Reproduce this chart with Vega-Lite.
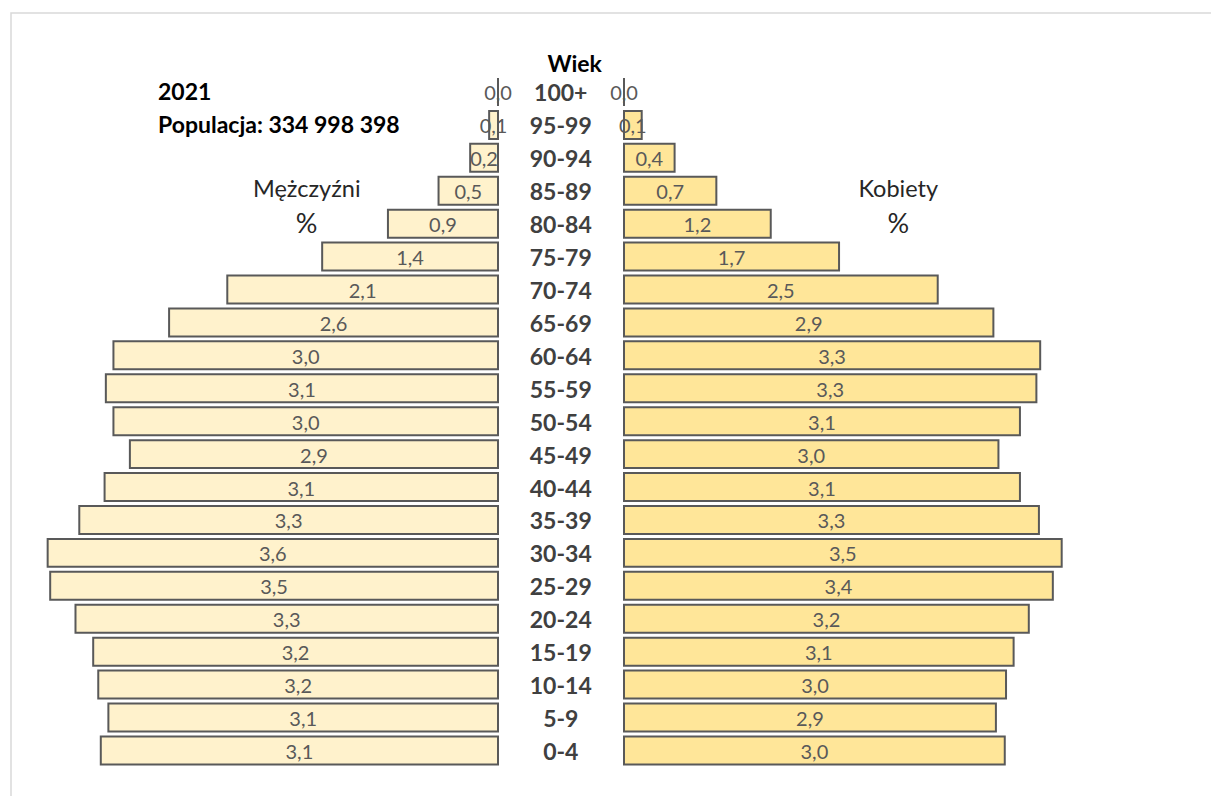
{
  "$schema": "https://vega.github.io/schema/vega-lite/v6.json",
  "autosize": {"type": "fit", "contains": "padding"},
  "width": 1211,
  "height": 796,
  "padding": {"left": 11, "top": 13, "right": -4, "bottom": -4},
  "background": "white",
  "config": {
    "view": {"stroke": "#d9d9d9", "strokeWidth": 1.5},
    "locale": {"number": {"decimal": ",", "thousands": " ", "grouping": [3], "currency": ["", ""]}}
  },
  "data": {
    "values": [
      {"age": "100+", "m": 0.0, "f": 0.0},
      {"age": "95-99", "m": 0.07, "f": 0.14},
      {"age": "90-94", "m": 0.22, "f": 0.40},
      {"age": "85-89", "m": 0.47, "f": 0.73},
      {"age": "80-84", "m": 0.87, "f": 1.16},
      {"age": "75-79", "m": 1.39, "f": 1.70},
      {"age": "70-74", "m": 2.14, "f": 2.48},
      {"age": "65-69", "m": 2.60, "f": 2.92},
      {"age": "60-64", "m": 3.04, "f": 3.29},
      {"age": "55-59", "m": 3.10, "f": 3.26},
      {"age": "50-54", "m": 3.04, "f": 3.13},
      {"age": "45-49", "m": 2.91, "f": 2.96},
      {"age": "40-44", "m": 3.11, "f": 3.13},
      {"age": "35-39", "m": 3.31, "f": 3.28},
      {"age": "30-34", "m": 3.56, "f": 3.46},
      {"age": "25-29", "m": 3.54, "f": 3.39},
      {"age": "20-24", "m": 3.34, "f": 3.20},
      {"age": "15-19", "m": 3.20, "f": 3.08},
      {"age": "10-14", "m": 3.16, "f": 3.02},
      {"age": "5-9", "m": 3.08, "f": 2.94},
      {"age": "0-4", "m": 3.14, "f": 3.01}
    ]
  },
  "resolve": {"scale": {"x": "independent"}},
  "layer": [
    {
      "mark": {"type": "bar", "fill": "#FFF2CC", "stroke": "#595959", "strokeWidth": 2},
      "encoding": {
        "x": {"field": "m", "type": "quantitative", "axis": null, "scale": {"domain": [0, 4], "range": [487, -19]}},
        "y": {"field": "age", "type": "nominal", "axis": null, "scale": {"domain": ["100+","95-99","90-94","85-89","80-84","75-79","70-74","65-69","60-64","55-59","50-54","45-49","40-44","35-39","30-34","25-29","20-24","15-19","10-14","5-9","0-4"], "range": [65, 751.4], "paddingInner": 0.15, "paddingOuter": 0}}
      }
    },
    {
      "mark": {"type": "bar", "fill": "#FFE699", "stroke": "#595959", "strokeWidth": 2},
      "encoding": {
        "x": {"field": "f", "type": "quantitative", "axis": null, "scale": {"domain": [0, 4], "range": [613, 1119]}},
        "y": {"field": "age", "type": "nominal", "axis": null}
      }
    },
    {
      "mark": {"type": "text", "font": "Lato", "fontSize": 20, "color": "#595959", "baseline": "middle", "align": "center", "dy": 2.5},
      "encoding": {
        "x": {"field": "m", "type": "quantitative", "axis": null, "scale": {"domain": [0, 8], "range": [487, -19]}},
        "y": {"field": "age", "type": "nominal", "axis": null},
        "text": {"field": "m", "type": "quantitative", "format": ".1f"}
      }
    },
    {
      "mark": {"type": "text", "font": "Lato", "fontSize": 20, "color": "#595959", "baseline": "middle", "align": "center", "dy": 2.5},
      "encoding": {
        "x": {"field": "f", "type": "quantitative", "axis": null, "scale": {"domain": [0, 8], "range": [613, 1119]}},
        "y": {"field": "age", "type": "nominal", "axis": null},
        "text": {"field": "f", "type": "quantitative", "format": ".1f"}
      }
    },
    {
      "mark": {"type": "text", "font": "Lato", "fontSize": 23, "fontWeight": "bold", "color": "#404040", "baseline": "middle", "align": "center", "dy": 2.5},
      "encoding": {
        "x": {"datum": -0.5, "type": "quantitative", "axis": null, "scale": {"domain": [-4, 4], "range": [107, 1119]}},
        "y": {"field": "age", "type": "nominal", "axis": null},
        "text": {"field": "age", "type": "nominal"}
      }
    },
    {
      "data": {"values": [{"t": "Wiek", "v": -0.39, "age": "100+"}]},
      "mark": {"type": "text", "font": "Lato", "fontSize": 23, "fontWeight": "bold", "color": "#000000", "baseline": "middle", "align": "center", "dy": -27},
      "encoding": {
        "x": {"field": "v", "type": "quantitative", "axis": null, "scale": {"domain": [-4, 4], "range": [107, 1119]}},
        "y": {"field": "age", "type": "nominal", "axis": null},
        "text": {"field": "t", "type": "nominal"}
      }
    },
    {
      "data": {"values": [{"t": "2021", "v": -3.684, "age": "100+"}, {"t": "Populacja: 334 998 398", "v": -3.684, "age": "95-99"}]},
      "mark": {"type": "text", "font": "Lato", "fontSize": 23, "fontWeight": "bold", "color": "#000000", "baseline": "middle", "align": "left", "dy": 1},
      "encoding": {
        "x": {"field": "v", "type": "quantitative", "axis": null, "scale": {"domain": [-4, 4], "range": [107, 1119]}},
        "y": {"field": "age", "type": "nominal", "axis": null},
        "text": {"field": "t", "type": "nominal"}
      }
    },
    {
      "data": {"values": [{"t": "Mężczyźni", "v": -2.508, "age": "85-89"}, {"t": "Kobiety", "v": 2.168, "age": "85-89"}]},
      "mark": {"type": "text", "font": "Lato", "fontSize": 23.5, "color": "#262626", "baseline": "middle", "align": "center", "dy": -1},
      "encoding": {
        "x": {"field": "v", "type": "quantitative", "axis": null, "scale": {"domain": [-4, 4], "range": [107, 1119]}},
        "y": {"field": "age", "type": "nominal", "axis": null},
        "text": {"field": "t", "type": "nominal"}
      }
    },
    {
      "data": {"values": [{"t": "%", "v": -2.51, "age": "80-84"}, {"t": "%", "v": 2.168, "age": "80-84"}]},
      "mark": {"type": "text", "font": "Lato", "fontSize": 27, "color": "#262626", "baseline": "middle", "align": "center", "dy": 1},
      "encoding": {
        "x": {"field": "v", "type": "quantitative", "axis": null, "scale": {"domain": [-4, 4], "range": [107, 1119]}},
        "y": {"field": "age", "type": "nominal", "axis": null},
        "text": {"field": "t", "type": "nominal"}
      }
    }
  ]
}
